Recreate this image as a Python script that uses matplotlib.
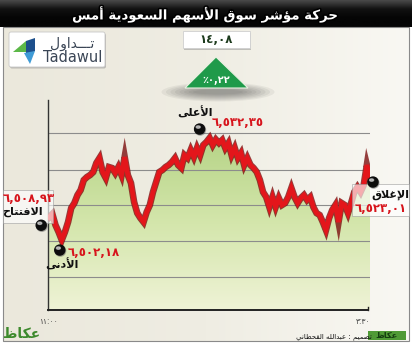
import numpy as np
import matplotlib
matplotlib.use("Agg")
import matplotlib.pyplot as plt
from matplotlib import patheffects as pe
from matplotlib.patches import Rectangle, Polygon, FancyBboxPatch, Circle, Ellipse
from matplotlib.colors import LinearSegmentedColormap

W, H = 412, 343

TITLE = "حركة مؤشر سوق الأسهم السعودية أمس"
CHANGE_PTS = 14.08
CHANGE_PCT = 0.22
OPEN, HIGH, LOW, CLOSE = 6508.93, 6532.35, 6502.18, 6523.01
LBL_OPEN, LBL_HIGH, LBL_LOW, LBL_CLOSE = "الافتتاح", "الأعلى", "الأدنى", "الإغلاق"
T_START, T_END = "١١:٠٠", "٣:٣٠"
CREDIT = "تصميم : عبدالله القحطاني"
BRAND_AR, BRAND_EN = "تـــداول", "Tadawul"
PAPER = "عكاظ"
SESSION_MIN = 270

# index level, evenly spaced over the session
INDEX = [6508.93, 6509.90, 6506.62, 6504.55, 6502.18, 6504.55, 6507.50, 6511.65, 6513.12,
         6515.49, 6516.97, 6519.93, 6520.82, 6521.41, 6522.29, 6524.96, 6526.44, 6522.29,
         6520.52, 6523.77, 6523.48, 6522.00, 6523.77, 6521.41, 6526.73, 6521.41, 6519.04,
         6513.42, 6510.17, 6508.69, 6507.50, 6510.46, 6512.53, 6516.38, 6519.34, 6522.29,
         6522.89, 6523.77, 6524.37, 6525.25, 6526.44, 6524.37, 6523.48, 6527.32, 6526.44,
         6528.80, 6526.73, 6529.39, 6527.32, 6530.28, 6531.17, 6532.35, 6530.28, 6531.90,
         6530.87, 6531.76, 6529.39, 6530.87, 6527.32, 6529.39, 6526.44, 6527.91, 6524.37,
         6526.44, 6524.37, 6523.48, 6522.29, 6519.93, 6516.38, 6514.90, 6511.94, 6514.90,
         6511.94, 6514.60, 6512.53, 6513.12, 6514.90, 6517.56, 6514.90, 6513.12, 6514.60,
         6515.49, 6514.01, 6514.90, 6511.94, 6510.17, 6509.58, 6507.50, 6505.14, 6508.69,
         6511.05, 6512.53, 6507.50, 6513.12, 6512.53, 6510.17, 6513.12, 6516.38, 6517.86,
         6516.38, 6518.45, 6524.37, 6520.52]
GRID = [6533.8, 6522.9, 6512.5, 6501.9, 6491.2]
Y_LIM = (6481.5, 6543.6)

RED, DKRED = "#e3161b", "#7d1010"
GREEN = "#1f9a4a"

# --- minimal Arabic shaping (presentation forms) ---
FORMS = {
    "ا": (0xFE8D, 0xFE8E, None, None), "أ": (0xFE83, 0xFE84, None, None),
    "إ": (0xFE87, 0xFE88, None, None), "ب": (0xFE8F, 0xFE90, 0xFE91, 0xFE92),
    "ة": (0xFE93, 0xFE94, None, None), "ت": (0xFE95, 0xFE96, 0xFE97, 0xFE98),
    "ح": (0xFEA1, 0xFEA2, 0xFEA3, 0xFEA4), "د": (0xFEA9, 0xFEAA, None, None),
    "ر": (0xFEAD, 0xFEAE, None, None), "س": (0xFEB1, 0xFEB2, 0xFEB3, 0xFEB4),
    "ش": (0xFEB5, 0xFEB6, 0xFEB7, 0xFEB8), "ص": (0xFEB9, 0xFEBA, 0xFEBB, 0xFEBC),
    "ط": (0xFEC1, 0xFEC2, 0xFEC3, 0xFEC4), "ظ": (0xFEC5, 0xFEC6, 0xFEC7, 0xFEC8),
    "ع": (0xFEC9, 0xFECA, 0xFECB, 0xFECC), "غ": (0xFECD, 0xFECE, 0xFECF, 0xFED0),
    "ف": (0xFED1, 0xFED2, 0xFED3, 0xFED4), "ق": (0xFED5, 0xFED6, 0xFED7, 0xFED8),
    "ك": (0xFED9, 0xFEDA, 0xFEDB, 0xFEDC), "ل": (0xFEDD, 0xFEDE, 0xFEDF, 0xFEE0),
    "م": (0xFEE1, 0xFEE2, 0xFEE3, 0xFEE4), "ن": (0xFEE5, 0xFEE6, 0xFEE7, 0xFEE8),
    "ه": (0xFEE9, 0xFEEA, 0xFEEB, 0xFEEC), "و": (0xFEED, 0xFEEE, None, None),
    "ؤ": (0xFE85, 0xFE86, None, None), "ى": (0xFEEF, 0xFEF0, None, None),
    "ي": (0xFEF1, 0xFEF2, 0xFEF3, 0xFEF4), "ـ": (0x640, 0x640, 0x640, 0x640),
}
LAM_ALEF = {"أ": (0xFEF7, 0xFEF8), "إ": (0xFEF9, 0xFEFA), "ا": (0xFEFB, 0xFEFC)}


def ar(text):
    ch, out, i = list(text), [], 0
    dual = lambda c: c in FORMS and FORMS[c][2] is not None
    while i < len(ch):
        c = ch[i]
        if c not in FORMS:
            out.append(c); i += 1; continue
        cp = i > 0 and dual(ch[i - 1])
        if c == "ل" and i + 1 < len(ch) and ch[i + 1] in LAM_ALEF:
            iso, fin = LAM_ALEF[ch[i + 1]]
            out.append(chr(fin if cp else iso)); i += 2; continue
        cn = dual(c) and i + 1 < len(ch) and ch[i + 1] in FORMS
        iso, fin, ini, med = FORMS[c]
        out.append(chr(med if cp and cn else fin if cp else ini if cn else iso))
        i += 1
    return "".join(reversed(out))


def ar_num(v, fmt="{:,.2f}"):
    s = fmt.format(v).replace(".", ",")
    return s.translate(str.maketrans("0123456789", "٠١٢٣٤٥٦٧٨٩"))


plt.rcParams["font.family"] = "DejaVu Sans"
fig = plt.figure(figsize=(W / 100, H / 100), dpi=100)

# background layer in pixel coords (origin top-left)
bg = fig.add_axes([0, 0, 1, 1], zorder=0)
bg.set_xlim(0, W); bg.set_ylim(H, 0); bg.axis("off")
grad = np.linspace(0, 1, 256)[None, :]
bg.imshow(grad, extent=[3, 409, 342, 27], aspect="auto",
          cmap=LinearSegmentedColormap.from_list("p", ["#ebe8dc", "#efede3", "#f9f8f3"]))
bg.add_patch(Rectangle((3, 27), 406, 314, fill=False, ec="#8a8a8a", lw=0.8))
bg.imshow(np.linspace(0, 1, 64)[:, None], extent=[0, W, 27, 0], aspect="auto",
          cmap=LinearSegmentedColormap.from_list("t", ["#4a4a4a", "#111111", "#050505", "#050505"]))
bg.text(W / 2, 14.5, ar(TITLE), color="white", fontsize=9.6, fontweight="bold",
        ha="center", va="center",
        path_effects=[pe.withStroke(linewidth=2.2, foreground="black")])
# soft shadow cast by the arrow onto the panel
for k in range(8):
    bg.add_patch(Ellipse((218, 92), 50 + 9 * k, 5 + 2 * k, color="#3a3a3a",
                         alpha=0.07, lw=0, zorder=3))

# chart
ax = fig.add_axes([48 / W, (H - 310) / H, 322 / W, 210 / H], zorder=1)
ax.patch.set_alpha(0)
t = np.linspace(0, SESSION_MIN, len(INDEX))
y = np.array(INDEX)
ax.set_xlim(-1, SESSION_MIN)
ax.set_ylim(*Y_LIM)
fill = ax.fill_between(t, y, Y_LIM[0], color="none", lw=0)
im = ax.imshow(np.linspace(0, 1, 256)[:, None], extent=[t[0], t[-1], Y_LIM[0], max(INDEX)],
               aspect="auto", origin="upper", zorder=1,
               cmap=LinearSegmentedColormap.from_list("g", ["#b6d487", "#d4e6ac", "#eff3d6"]))
im.set_clip_path(fill.get_paths()[0], transform=ax.transData)
for g in GRID:
    ax.plot([t[0] - 1, t[-1]], [g, g], color="#8c8c8c", lw=0.8, zorder=2)
ax.plot(t, y, color=RED, lw=3.4, zorder=3, solid_joinstyle="miter",
        path_effects=[pe.Stroke(linewidth=4.8, foreground=DKRED, alpha=0.8), pe.Normal()])
ax.set_xticks([]); ax.set_yticks([])
for s in ["top", "right"]:
    ax.spines[s].set_visible(False)
ax.spines["left"].set_color("#333333"); ax.spines["bottom"].set_color("#222222")
ax.spines["left"].set_linewidth(1.0); ax.spines["bottom"].set_linewidth(1.4)
ax.spines["bottom"].set_bounds(-1, SESSION_MIN - 2)
ax.plot([SESSION_MIN - 2] * 2, [Y_LIM[0], Y_LIM[0] + 0.9], color="#222222", lw=1.0, clip_on=False)

# foreground layer
fg = fig.add_axes([0, 0, 1, 1], zorder=2)
fg.set_xlim(0, W); fg.set_ylim(H, 0); fg.axis("off")


def px(tt, vv):
    return fg.transData.inverted().transform(ax.transData.transform((tt, vv)))


def ball(x0, y0):
    fg.add_patch(Circle((x0 + 0.6, y0 + 0.8), 5.3, color="#555555", alpha=0.4, zorder=5))
    fg.add_patch(Circle((x0, y0), 5.0, color="#0d0d0d", zorder=6))
    fg.add_patch(Ellipse((x0 - 1.4, y0 - 2.0), 4.0, 2.4, color="white", alpha=0.55, zorder=7))


# open / close boxes (line shows through faintly)
fg.add_patch(Rectangle((3, 190), 50, 33, fc="white", ec="#9a9a9a", lw=0.6, alpha=0.65, zorder=4))
fg.add_patch(Rectangle((352, 184), 57, 32, fc="white", ec="#9a9a9a", lw=0.6, alpha=0.65, zorder=4))

ihi, ilo = int(np.argmax(y)), int(np.argmin(y))
bx, by = px(t[ihi], y[ihi]); ball(bx - 10, by - 9)
bx, by = px(t[ilo], y[ilo]); ball(bx - 2, by + 10)
bx, by = px(t[0], y[0]); ball(bx - 8, by + 8)
bx, by = px(t[-1], y[-1]); ball(bx + 3, by + 4)

lab = dict(fontsize=8, fontweight="bold", color="#111111", zorder=8)
num = dict(fontsize=8.5, fontweight="bold", color="#d7141c", zorder=8)
fg.text(195, 113, ar(LBL_HIGH), ha="center", va="center", **lab)
fg.text(212, 123, ar_num(HIGH), ha="left", va="center", **num)
fg.text(62, 265, ar(LBL_LOW), ha="center", va="center", **lab)
fg.text(68, 252, ar_num(LOW), ha="left", va="center", **num)
fg.text(22, 212, ar(LBL_OPEN), ha="center", va="center", **lab)
fg.text(29, 199, ar_num(OPEN), ha="center", va="center", **num)
fg.text(390, 195, ar(LBL_CLOSE), ha="center", va="center", **lab)
fg.text(381, 208, ar_num(CLOSE), ha="center", va="center", **num)

# time labels
fg.text(48, 322, T_START, ha="center", va="center", fontsize=5.5, color="#444444")
fg.text(363, 322, T_END, ha="center", va="center", fontsize=5.5, color="#444444")

# change box and triangle
fg.add_patch(Rectangle((184, 33), 67, 17, fc="#777777", alpha=0.4, lw=0, zorder=2))
fg.add_patch(Rectangle((183, 31), 67, 17, fc="white", ec="#cfcfcf", lw=0.6, zorder=3))
fg.text(216.5, 39.5, ar_num(CHANGE_PTS), ha="center", va="center", fontsize=8.5,
        fontweight="bold", color="#1d3b1d", zorder=4)
fg.add_patch(Polygon([(216, 57), (185, 88), (248, 88)], closed=True, fc=GREEN,
                     ec="#e8f0e0", lw=0.8, zorder=3))
fg.text(216.5, 80, "٪" + ar_num(CHANGE_PCT), ha="center", va="center", fontsize=7,
        fontweight="bold", color="white", zorder=4)

# Tadawul logo
fg.add_patch(FancyBboxPatch((10, 33.5), 96, 35, boxstyle="round,pad=0,rounding_size=2",
                            fc="#8c8c8c", alpha=0.5, lw=0, zorder=2))
fg.add_patch(FancyBboxPatch((9, 32), 96, 35, boxstyle="round,pad=0,rounding_size=2",
                            fc="white", ec="#c8c8c8", lw=0.6, zorder=3))
fg.add_patch(Polygon([(13, 52), (26, 41), (26, 52)], fc="#5cb848", lw=0, zorder=4))
fg.add_patch(Polygon([(26, 41), (35, 38), (35, 51), (26, 56)], fc="#1d4f8c", lw=0, zorder=4))
fg.add_patch(Polygon([(24, 53), (35, 51), (30, 64)], fc="#3f9bd6", lw=0, zorder=4))
fg.text(72, 44, ar(BRAND_AR), ha="center", va="center", fontsize=10, color="#3b4656", zorder=4)
fg.text(73, 57.5, BRAND_EN, ha="center", va="center", fontsize=10.5, color="#3b4656", zorder=4)

# footer
fg.text(22, 334, ar(PAPER), ha="center", va="center", fontsize=10, fontweight="bold",
        color="#3d8a2c")
fg.text(334, 337, ar(CREDIT), ha="center", va="center", fontsize=5, color="#111111")
fg.add_patch(Rectangle((368, 331), 38, 9, fc="#4f9a35", lw=0))
fg.text(387, 335.5, ar(PAPER), ha="center", va="center", fontsize=6, fontweight="bold",
        color="#143d10")

fig.savefig("out.png", dpi=100)
